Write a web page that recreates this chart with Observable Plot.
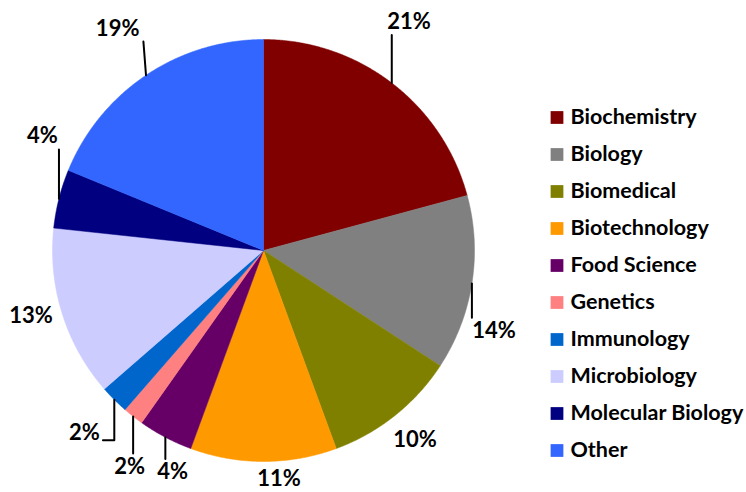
<!DOCTYPE html>
<html><head><meta charset="utf-8">
<script src="https://cdn.jsdelivr.net/npm/d3@7"></script>
<script src="https://cdn.jsdelivr.net/npm/@observablehq/plot@0.6"></script>
<style>html,body{margin:0;padding:0;background:#fff} #chart svg{display:block}</style>
</head><body><div id="chart"></div>
<script>
// ---- data ----
const categories = ["Biochemistry","Biology","Biomedical","Biotechnology","Food Science","Genetics","Immunology","Microbiology","Molecular Biology","Other"];
const shares = [20.8, 13.4, 10.2, 11.2, 4.2, 1.6, 2.2, 13.1, 4.5, 18.8];
const shareLabels = ["21%","14%","10%","11%","4%","2%","2%","13%","4%","19%"];
const sliceColors = ["#800000","#808080","#808000","#FF9900","#660066","#FF8080","#0066CC","#CCCCFF","#000080","#3366FF"];
// label placement: angle (deg clockwise from 12 o'clock), distance in radii, leader style
const labelAngle = [32.5, 109.2, 141.3, 176.1, 202.3, 211.8, 224.4, 254.2, 297.3, 326.7];
const labelDist  = [1.284, 1.157, 1.148, 1.085, 1.135, 1.205, 1.213, 1.145, 1.179, 1.259];
const leaderStyle = ["straight","straight","none","none","straight","straight","elbow","none","straight","straight"];

// ---- layout ----
const W = 746, H = 492, cx = 263, cy = 250, R = 211;
const px = 1 / R; // one pixel in data units
const total = d3.sum(shares);
const rad = d => d * Math.PI / 180;

let acc = 0;
const slices = shares.map((v, i) => {
  const a0 = acc / total * 2 * Math.PI; acc += v;
  const a1 = acc / total * 2 * Math.PI;
  return {name: categories[i], a0, a1, mid: (a0 + a1) / 2};
});
const slicePts = [];
for (const s of slices) {
  slicePts.push({name: s.name, x: 0, y: 0});
  const n = Math.max(2, Math.ceil((s.a1 - s.a0) / 0.005));
  for (let k = 0; k <= n; k++) {
    const a = s.a0 + (s.a1 - s.a0) * k / n;
    slicePts.push({name: s.name, x: Math.sin(a), y: Math.cos(a)});
  }
  slicePts.push({name: s.name, x: 0, y: 0});
}

const labels = shareLabels.map((t, i) => ({
  text: t,
  x: labelDist[i] * Math.sin(rad(labelAngle[i])),
  y: labelDist[i] * Math.cos(rad(labelAngle[i]))
}));

const leaders = [];
slices.forEach((s, i) => {
  const st = leaderStyle[i];
  if (st === "none") return;
  const ex = Math.sin(s.mid), ey = Math.cos(s.mid);
  const L = labels[i];
  const hw = (shareLabels[i].length * 14.5 / 2 + 4) * px;
  const hh = 13 * px;
  if (st === "straight") {
    const bx = Math.max(L.x - hw, Math.min(L.x + hw, ex));
    const by = Math.max(L.y - hh, Math.min(L.y + hh, ey));
    leaders.push({id: i, x: ex, y: ey}, {id: i, x: bx, y: by});
  } else {
    const yy = L.y - 7 * px;
    leaders.push({id: i, x: ex, y: ey}, {id: i, x: ex, y: yy}, {id: i, x: L.x + hw, y: yy});
  }
});

const legendX = (556.5 - cx) * px;
const legendTextX = (570 - cx) * px;
const legendY = i => (cy - (117 + 37 * i)) * px;

const chart = Plot.plot({
  width: W, height: H,
  margin: 0,
  x: {domain: [-cx * px, (W - cx) * px], axis: null},
  y: {domain: [-(H - cy) * px, cy * px], axis: null},
  color: {domain: categories, range: sliceColors},
  style: {fontFamily: "Lato, 'Open Sans', sans-serif", background: "#fff"},
  marks: [
    Plot.line(slicePts, {x: "x", y: "y", z: "name", fill: "name", stroke: "name", strokeWidth: 0.5, curve: "linear"}),
    Plot.line(leaders, {x: "x", y: "y", z: "id", stroke: "black", strokeWidth: 2, curve: "linear"}),
    Plot.text(labels, {x: "x", y: "y", text: "text", fontSize: 22, fontWeight: "bold", fill: "black", textAnchor: "middle", lineAnchor: "middle"}),
    Plot.dot(categories, {x: () => legendX, y: (d, i) => legendY(i), symbol: "square", r: 7.2, fill: d => d, stroke: null}),
    Plot.text(categories, {x: () => legendTextX, y: (d, i) => legendY(i), text: d => d, fontSize: 21.5, fontWeight: "bold", fill: "black", textAnchor: "start", lineAnchor: "middle"})
  ]
});
document.getElementById("chart").appendChild(chart);
</script>
</body></html>
